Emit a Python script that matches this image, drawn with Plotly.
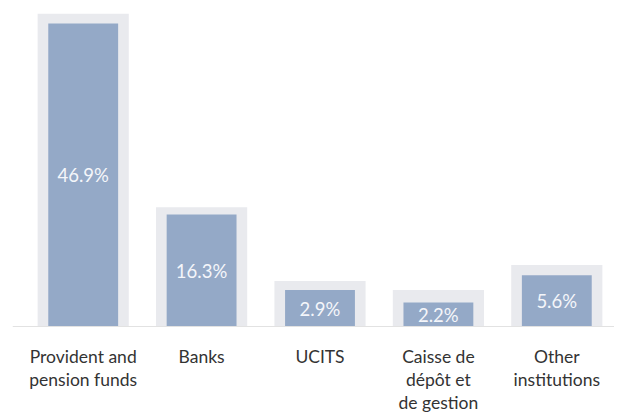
import plotly.graph_objects as go

# categorias y valores
categorias = ["Provident and<br>pension funds", "Banks", "UCITS",
              "Caisse de<br>dépôt et<br>de gestion", "Other<br>institutions"]
cuotas = [46.9, 16.3, 2.9, 2.2, 5.6]
# alturas de barra tal como se ven en el grafico (misma unidad que las cuotas)
altura_barra = [46.9, 17.4, 5.7, 3.8, 8.0]
altura_marco = [48.4, 18.5, 7.1, 5.7, 9.6]

AZUL = "#94a9c7"
GRIS = "#e9eaee"
FUENTE = "Lato"

fig = go.Figure()

# marco gris detras de cada barra
fig.add_trace(go.Bar(x=categorias, y=altura_marco, width=0.77,
                     marker=dict(color=GRIS, line=dict(width=0)),
                     hoverinfo="skip", showlegend=False))

# barra azul con la etiqueta del porcentaje
fig.add_trace(go.Bar(x=categorias, y=altura_barra, width=0.59,
                     marker=dict(color=AZUL, line=dict(width=0)),
                     text=[f"{v:.1f}%" for v in cuotas],
                     textposition="inside", insidetextanchor="middle",
                     textangle=0, constraintext="none",
                     textfont=dict(family=FUENTE, size=18.5, color="#f4f6fa"),
                     showlegend=False))

# linea base
fig.add_shape(type="line", xref="paper", yref="y", x0=-0.019, x1=1.007, y0=0, y1=0,
              line=dict(color="#e2e2e2", width=2), layer="above")

# la pagina tiene 8px de margen en el body: se descuenta del tamaño
fig.update_layout(
    width=614, height=404,
    margin=dict(l=16, r=6, t=0, b=84.5),
    barmode="overlay",
    plot_bgcolor="white", paper_bgcolor="white",
    font=dict(family=FUENTE, size=17.5, color="#333333"),
)
fig.update_xaxes(showline=False, showgrid=False, ticks="outside", ticklen=14,
                 tickcolor="rgba(0,0,0,0)", tickfont=dict(size=17.5, color="#333333"))
fig.update_yaxes(range=[0, 49.3], visible=False, showgrid=False)

fig.write_html("out.html")
